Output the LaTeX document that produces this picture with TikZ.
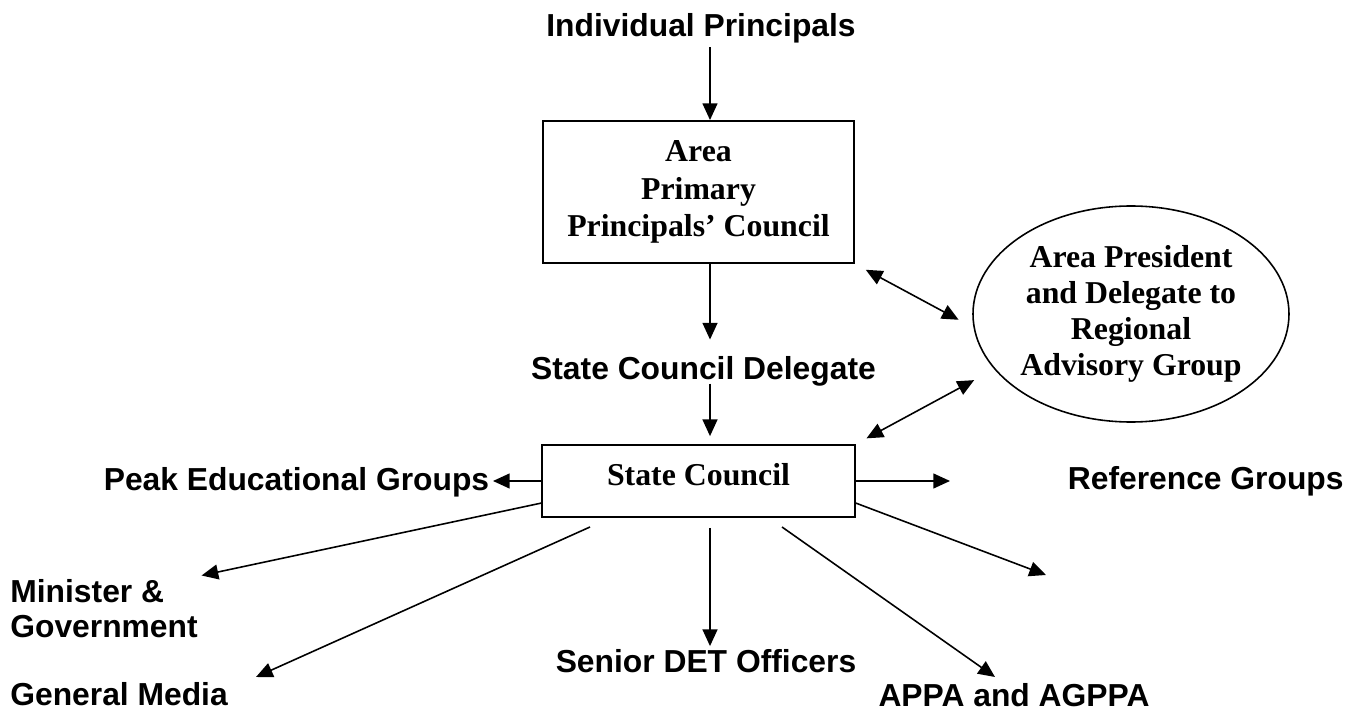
\documentclass[tikz,border=0pt]{standalone}
\usepackage{fontspec}
\setmainfont{Liberation Serif}
\setsansfont{Liberation Sans}
\usetikzlibrary{arrows.meta,shapes.geometric}

\begin{document}
\begin{tikzpicture}[
  lbl/.style={font=\sffamily\bfseries\fontsize{18.1}{19.8}\selectfont, inner sep=2pt},
  council/.style={draw, line width=1.1pt, font=\bfseries\fontsize{18.1}{21.3}\selectfont, align=center, inner sep=0pt},
  arr/.style={line width=0.9pt, -{Triangle[length=9.5pt,width=8.5pt]}},
  darr/.style={line width=0.9pt, {Triangle[length=9.5pt,width=8.5pt]}-{Triangle[length=9.5pt,width=8.5pt]}}]
\useasboundingbox (0,0) rectangle (27.12,14.28);
\coordinate (mid) at (14.2,0);

\node[lbl, anchor=base] (ip) at (14.02,13.54) {Individual Principals};
\node[council, minimum width=6.22cm, minimum height=2.84cm] (area) at (13.97,10.44) {Area\\Primary\\Principals’ Council};
\node[lbl, anchor=base] (scd) at (14.07,6.68) {State Council Delegate};
\node[council, minimum width=6.26cm, minimum height=1.44cm, text depth=8pt] (sc) at (13.97,4.66) {State Council};
\node[draw, ellipse, line width=0.9pt, minimum width=6.32cm, minimum height=4.32cm, inner sep=0pt, align=center,
  font=\bfseries\fontsize{18.1}{20.4}\selectfont] (rag) at (22.62,8.0) {Area President\\and Delegate to\\Regional\\Advisory Group};

\node[lbl, anchor=base east] (peg) at (9.86,4.46) {Peak Educational Groups};
\node[lbl, anchor=base west] (ref) at (21.28,4.48) {Reference Groups};
\node[lbl, anchor=north west, align=left] (min) at (0.13,2.77) {Minister \&\\Government};
\node[lbl, anchor=base west] (gm) at (0.13,0.18) {General Media};
\node[lbl, anchor=base] (sdo) at (14.12,0.82) {Senior DET Officers};
\node[lbl, anchor=base] (appa) at (20.28,0.14) {APPA and AGPPA};

\coordinate (rgap) at (19.0,4.66);
\coordinate (rtip) at (20.92,2.78);
\coordinate (gmfrom) at (11.8,3.74);
\coordinate (gmtip) at (5.12,0.74);
\coordinate (appafrom) at (15.64,3.74);
\coordinate (appatip) at (19.9,0.74);

\draw[arr] (ip.south -| mid) -- (area.north -| mid);
\draw[arr, shorten >=7.7pt] (area.south -| mid) -- (scd.north -| mid);
\draw[arr, shorten <=-4pt, shorten >=4.5pt] (scd.south -| mid) -- (sc.north -| mid);
\draw[darr, shorten <=7pt, shorten >=9.6pt] (area.south east) -- (rag.185);
\draw[darr, shorten <=6.8pt, shorten >=13pt] (sc.north east) -- (rag.202);

\draw[arr] (sc.west) -- (sc.west -| peg.east);
\draw[arr] (sc.east) -- (rgap);
\draw[arr] (sc.188) -- (min.north east);
\draw[arr] (gmfrom) -- (gmtip);
\draw[arr, shorten <=5.7pt] (sc.south -| mid) -- (sdo.north -| mid);
\draw[arr] (appafrom) -- (appatip);
\draw[arr] (sc.352) -- (rtip);
\end{tikzpicture}
\end{document}
